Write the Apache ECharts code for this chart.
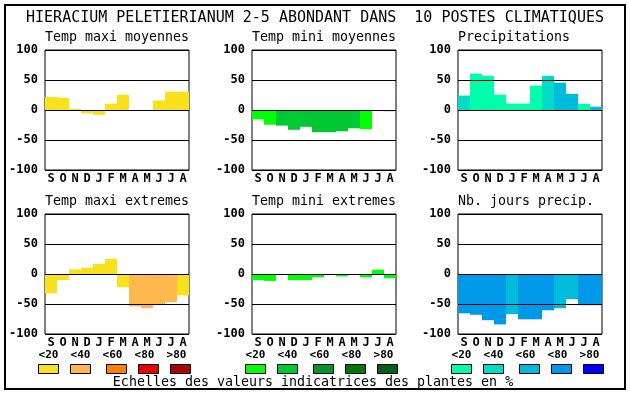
<!DOCTYPE html>
<html><head><meta charset="utf-8">
<script src="https://cdn.jsdelivr.net/npm/echarts@6/dist/echarts.min.js"></script>
<style>html,body{margin:0;padding:0;background:#fff}#c{width:630px;height:394px}</style>
</head><body><div id="c"></div>
<script>
// ---- text ----
const mainTitle = 'HIERACIUM PELETIERIANUM 2-5 ABONDANT DANS  10 POSTES CLIMATIQUES';
const footerText = 'Echelles des valeurs indicatrices des plantes en %';
const panelTitles = ['Temp maxi moyennes', 'Temp mini moyennes', 'Precipitations',
                     'Temp maxi extremes', 'Temp mini extremes', 'Nb. jours precip.'];
const months = ['S', 'O', 'N', 'D', 'J', 'F', 'M', 'A', 'M', 'J', 'J', 'A'];
const yMin = -100, yMax = 100, yStep = 50;
const legendLabels = ['<20', '<40', '<60', '<80', '>80'];

// ---- data (values in %, class = indicator class index 0..4) ----
const tmaxMoy      = [22, 20.5, 2, -5.5, -8, 10.5, 25.5, 0, 0, 16, 30.5, 30.5];
const tmaxMoyClass = [0, 0, 0, 0, 0, 0, 0, 0, 0, 0, 0, 0];
const tminMoy      = [-15.5, -24.5, -26, -33, -28, -37, -37, -35.5, -30.5, -32, 0, -2];
const tminMoyClass = [0, 0, 1, 1, 1, 1, 1, 1, 1, 0, 1, 1];
const precip       = [24, 60.5, 57, 25.5, 10.5, 10.5, 40.5, 57, 45.5, 27, 10.5, 5.5];
const precipClass  = [1, 0, 0, 0, 0, 0, 0, 1, 2, 2, 0, 2];
const tmaxExt      = [-32, -10, 7.8, 10.5, 17, 25.5, -22, -54, -57, -52, -47, -35.5];
const tmaxExtClass = [0, 0, 0, 0, 0, 0, 0, 1, 1, 1, 1, 0];
const tminExt      = [-10, -11.5, 0, -10, -10, -5.5, -1.5, -4, 0, -5.5, 7, -7];
const tminExtClass = [0, 0, 0, 0, 0, 0, 0, 0, 0, 0, 0, 0];
const nbPrecip      = [-65.5, -68, -77, -84, -67, -75.5, -75.5, -60.5, -57, -42, -52, -52];
const nbPrecipClass = [3, 3, 3, 3, 2, 3, 3, 3, 2, 2, 3, 3];

// ---- palettes ----
const palTmax = ['#f9e11e', '#ffb84d', '#ff8000', '#e80000', '#a80800'];
const palTmin = ['#00ff00', '#00c832', '#009628', '#007800', '#006018'];
const palPrec = ['#00ffaa', '#00dcc8', '#00bcdc', '#0098e8', '#0000ff'];

const panels = [
  { vals: tmaxMoy,  cls: tmaxMoyClass,  pal: palTmax },
  { vals: tminMoy,  cls: tminMoyClass,  pal: palTmin },
  { vals: precip,   cls: precipClass,   pal: palPrec },
  { vals: tmaxExt,  cls: tmaxExtClass,  pal: palTmax },
  { vals: tminExt,  cls: tminExtClass,  pal: palTmin },
  { vals: nbPrecip, cls: nbPrecipClass, pal: palPrec }
];

// ---- layout ----
const lefts = [45, 252, 458];
const tops = [50, 214];
const W = 144, H = 120;
const mono = '"DejaVu Sans Mono", "Liberation Mono", monospace';

const grids = [], xAxes = [], yAxes = [], series = [], graphics = [];

graphics.push({ type: 'rect', shape: { x: 5, y: 5, width: 620, height: 384 },
  style: { fill: 'none', stroke: '#000', lineWidth: 2 }, z: 10 });
graphics.push({ type: 'text', x: 315, y: 18,
  style: { text: mainTitle, font: '15px ' + mono, fill: '#000', align: 'center', verticalAlign: 'middle' } });
graphics.push({ type: 'text', x: 313, y: 383,
  style: { text: footerText, font: '13.3px ' + mono, fill: '#000', align: 'center', verticalAlign: 'middle' } });

const boxOff = [-6.5, 25.5, 61.5, 93.5, 125.5];
const labOff = [-6.5, 25.5, 57.5, 89.5, 121.5];

panels.forEach((p, i) => {
  const col = i % 3, row = Math.floor(i / 3);
  const L = lefts[col], T = tops[row];
  grids.push({ left: L, top: T, width: W, height: H, show: true,
    borderColor: '#000', borderWidth: 1, backgroundColor: 'transparent', containLabel: false });
  xAxes.push({ gridIndex: i, type: 'category', data: months,
    axisLine: { show: false }, axisTick: { show: false },
    axisLabel: { interval: 0, margin: 3, color: '#000', fontFamily: mono, fontWeight: 'bold', fontSize: 12 },
    splitLine: { show: false } });
  yAxes.push({ gridIndex: i, type: 'value', min: yMin, max: yMax, interval: yStep, z: 3,
    axisLine: { show: false }, axisTick: { show: false },
    axisLabel: { margin: 7, color: '#000', fontFamily: mono, fontWeight: 'bold', fontSize: 12 },
    splitLine: { show: true, lineStyle: { color: '#000', width: 1 } } });
  series.push({ type: 'bar', xAxisIndex: i, yAxisIndex: i, barCategoryGap: '0%', barGap: '0%',
    silent: true, animation: false,
    data: p.vals.map((v, k) => ({ value: v, itemStyle: { color: p.pal[p.cls[k]] } })) });
  graphics.push({ type: 'text', x: L, y: T - 12.5,
    style: { text: panelTitles[i], font: '13.3px ' + mono, fill: '#000', align: 'left', verticalAlign: 'middle' } });
  if (row === 1) {
    legendLabels.forEach((lab, k) => {
      graphics.push({ type: 'text', x: L + labOff[k] + 10, y: 355,
        style: { text: lab, font: 'bold 11px ' + mono, fill: '#000', align: 'center', verticalAlign: 'middle' } });
      graphics.push({ type: 'rect', shape: { x: L + boxOff[k], y: 364.5, width: 20, height: 9 },
        style: { fill: p.pal[k], stroke: '#000', lineWidth: 1 } });
    });
  }
});

const chart = echarts.init(document.getElementById('c'), null, { renderer: 'canvas' });
chart.setOption({
  animation: false,
  backgroundColor: '#fff',
  grid: grids, xAxis: xAxes, yAxis: yAxes, series: series, graphic: graphics
});
</script>
</body></html>
